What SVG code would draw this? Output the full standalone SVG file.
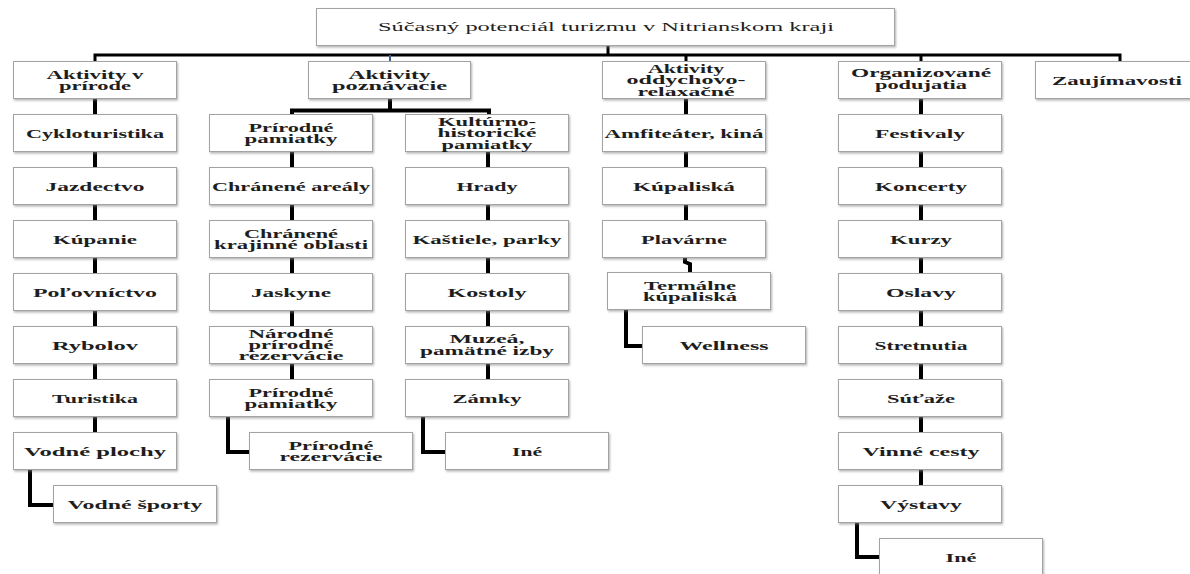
<svg xmlns="http://www.w3.org/2000/svg" width="1190" height="574" viewBox="0 0 1190 574">
<style>
.b{fill:#fff;stroke:#a3a3a3;stroke-width:1;filter:url(#sh)}
.t{font-family:"Liberation Serif","Times New Roman",serif;font-weight:bold;font-size:12px;fill:#1e1e1e;text-anchor:middle}
.r{font-family:"Liberation Serif","Times New Roman",serif;font-size:13px;fill:#1e1e1e;text-anchor:middle}
.c{fill:none;stroke:#000;stroke-width:4;stroke-linejoin:miter}
.bus{fill:none;stroke:#000;stroke-width:3}
</style>
<defs>
<filter id="sh" x="-5%" y="-10%" width="115%" height="130%">
<feDropShadow dx="1" dy="1.5" stdDeviation="0.8" flood-color="#808080" flood-opacity="0.6"/>
</filter>
</defs>
<rect width="1190" height="574" fill="#fff"/>

<g id="connectors">
<path class="bus" d="M95,62 V55 H1120 V62"/>
<path class="bus" d="M608,45.5 V55"/>
<path d="M390,55 V62" stroke="#3d5f8f" stroke-width="2" fill="none"/>
<path class="bus" d="M686,55 V62"/>
<path class="bus" d="M921,55 V62"/>
<path class="c" d="M95,98.5 V114.5 M95,151.5 V167.5 M95,204.5 V220.5 M95,257.5 V273.5 M95,310.5 V326.5 M95,363.5 V379.5 M95,416.5 V432.5"/>
<path class="c" d="M30,469.5 V505 H53.5"/>
<path class="c" d="M390,98.5 V110.5 M292,114.5 V110.5 H489 V114.5"/>
<path class="c" d="M292,151.5 V167.5 M292,204.5 V220.5 M292,257.5 V273.5 M292,310.5 V326.5 M292,363.5 V379.5"/>
<path class="c" d="M228,416.5 V452 H249.5"/>
<path class="c" d="M488,151.5 V167.5 M488,204.5 V220.5 M488,257.5 V273.5 M488,310.5 V326.5 M488,363.5 V379.5"/>
<path class="c" d="M423,416.5 V452 H445.5"/>
<path class="c" d="M686,98.5 V114.5 M686,151.5 V167.5 M686,204.5 V220.5"/>
<path class="c" d="M685,257.5 V262 L690,264 V272.5"/>
<path class="c" d="M626,309.5 V346 H642.5"/>
<path class="c" d="M921,98.5 V114.5 M921,151.5 V167.5 M921,204.5 V220.5 M921,257.5 V273.5 M921,310.5 V326.5 M921,363.5 V379.5 M921,416.5 V432.5 M921,469.5 V485.5"/>
<path class="c" d="M857,522.5 V557 H879.5"/>
</g>

<g id="root">
<rect class="b" x="316.5" y="8.5" width="578" height="37"/>
<text class="r" x="606" y="31" textLength="456" lengthAdjust="spacingAndGlyphs">Súčasný potenciál turizmu v Nitrianskom kraji</text>
</g>

<g id="n-aktivity-prirode">
<rect class="b" x="13.5" y="61.5" width="163" height="37"/>
<text class="t" x="95" y="78.5" textLength="97" lengthAdjust="spacingAndGlyphs">Aktivity v</text>
<text class="t" x="95" y="90" textLength="72" lengthAdjust="spacingAndGlyphs">prírode</text>
</g>
<g id="n-cykloturistika">
<rect class="b" x="13.5" y="114.5" width="163" height="37"/>
<text class="t" x="95" y="137.5" textLength="138" lengthAdjust="spacingAndGlyphs">Cykloturistika</text>
</g>
<g id="n-jazdectvo">
<rect class="b" x="13.5" y="167.5" width="163" height="37"/>
<text class="t" x="95" y="190.5" textLength="99" lengthAdjust="spacingAndGlyphs">Jazdectvo</text>
</g>
<g id="n-kupanie">
<rect class="b" x="13.5" y="220.5" width="163" height="37"/>
<text class="t" x="95" y="243.5" textLength="84" lengthAdjust="spacingAndGlyphs">Kúpanie</text>
</g>
<g id="n-polovnictvo">
<rect class="b" x="13.5" y="273.5" width="163" height="37"/>
<text class="t" x="95" y="296.5" textLength="124" lengthAdjust="spacingAndGlyphs">Poľovníctvo</text>
</g>
<g id="n-rybolov">
<rect class="b" x="13.5" y="326.5" width="163" height="37"/>
<text class="t" x="95" y="349.5" textLength="86" lengthAdjust="spacingAndGlyphs">Rybolov</text>
</g>
<g id="n-turistika">
<rect class="b" x="13.5" y="379.5" width="163" height="37"/>
<text class="t" x="95" y="402.5" textLength="86" lengthAdjust="spacingAndGlyphs">Turistika</text>
</g>
<g id="n-vodne-plochy">
<rect class="b" x="13.5" y="432.5" width="163" height="37"/>
<text class="t" x="95" y="455.5" textLength="142" lengthAdjust="spacingAndGlyphs">Vodné plochy</text>
</g>
<g id="n-vodne-sporty">
<rect class="b" x="53.5" y="485.5" width="163" height="37"/>
<text class="t" x="135" y="508.5" textLength="135" lengthAdjust="spacingAndGlyphs">Vodné športy</text>
</g>

<g id="n-aktivity-poznavacie">
<rect class="b" x="308.5" y="61.5" width="162" height="37"/>
<text class="t" x="389.5" y="78.5" textLength="82" lengthAdjust="spacingAndGlyphs">Aktivity</text>
<text class="t" x="389.5" y="90" textLength="115" lengthAdjust="spacingAndGlyphs">poznávacie</text>
</g>
<g id="n-prirodne-pamiatky">
<rect class="b" x="209.5" y="114.5" width="163" height="37"/>
<text class="t" x="291" y="131.5" textLength="85" lengthAdjust="spacingAndGlyphs">Prírodné</text>
<text class="t" x="291" y="143" textLength="93" lengthAdjust="spacingAndGlyphs">pamiatky</text>
</g>
<g id="n-chranene-arealy">
<rect class="b" x="209.5" y="167.5" width="163" height="37"/>
<text class="t" x="291" y="190.5" textLength="158" lengthAdjust="spacingAndGlyphs">Chránené areály</text>
</g>
<g id="n-chranene-krajinne">
<rect class="b" x="209.5" y="220.5" width="163" height="37"/>
<text class="t" x="291" y="237.5" textLength="94" lengthAdjust="spacingAndGlyphs">Chránené</text>
<text class="t" x="291" y="249" textLength="154" lengthAdjust="spacingAndGlyphs">krajinné oblasti</text>
</g>
<g id="n-jaskyne">
<rect class="b" x="209.5" y="273.5" width="163" height="37"/>
<text class="t" x="291" y="296.5" textLength="80" lengthAdjust="spacingAndGlyphs">Jaskyne</text>
</g>
<g id="n-narodne-rezervacie">
<rect class="b" x="209.5" y="326.5" width="163" height="37"/>
<text class="t" x="291" y="337.5" textLength="85" lengthAdjust="spacingAndGlyphs">Národné</text>
<text class="t" x="291" y="348.8" textLength="85" lengthAdjust="spacingAndGlyphs">prírodné</text>
<text class="t" x="291" y="360.1" textLength="105" lengthAdjust="spacingAndGlyphs">rezervácie</text>
</g>
<g id="n-prirodne-pamiatky-2">
<rect class="b" x="209.5" y="379.5" width="163" height="37"/>
<text class="t" x="291" y="396.5" textLength="85" lengthAdjust="spacingAndGlyphs">Prírodné</text>
<text class="t" x="291" y="408" textLength="93" lengthAdjust="spacingAndGlyphs">pamiatky</text>
</g>
<g id="n-prirodne-rezervacie">
<rect class="b" x="249.5" y="432.5" width="163" height="37"/>
<text class="t" x="331" y="449.5" textLength="85" lengthAdjust="spacingAndGlyphs">Prírodné</text>
<text class="t" x="331" y="461" textLength="103" lengthAdjust="spacingAndGlyphs">rezervácie</text>
</g>
<g id="n-kulturno-historicke">
<rect class="b" x="405.5" y="114.5" width="163" height="37"/>
<text class="t" x="487" y="126" textLength="98" lengthAdjust="spacingAndGlyphs">Kultúrno-</text>
<text class="t" x="487" y="137.3" textLength="99" lengthAdjust="spacingAndGlyphs">historické</text>
<text class="t" x="487" y="148.6" textLength="91" lengthAdjust="spacingAndGlyphs">pamiatky</text>
</g>
<g id="n-hrady">
<rect class="b" x="405.5" y="167.5" width="163" height="37"/>
<text class="t" x="487" y="190.5" textLength="61" lengthAdjust="spacingAndGlyphs">Hrady</text>
</g>
<g id="n-kastiele">
<rect class="b" x="405.5" y="220.5" width="163" height="37"/>
<text class="t" x="487" y="243.5" textLength="149" lengthAdjust="spacingAndGlyphs">Kaštiele, parky</text>
</g>
<g id="n-kostoly">
<rect class="b" x="405.5" y="273.5" width="163" height="37"/>
<text class="t" x="487" y="296.5" textLength="79" lengthAdjust="spacingAndGlyphs">Kostoly</text>
</g>
<g id="n-muzea">
<rect class="b" x="405.5" y="326.5" width="163" height="37"/>
<text class="t" x="487" y="343" textLength="75" lengthAdjust="spacingAndGlyphs">Muzeá,</text>
<text class="t" x="487" y="354.5" textLength="134" lengthAdjust="spacingAndGlyphs">pamätné izby</text>
</g>
<g id="n-zamky">
<rect class="b" x="405.5" y="379.5" width="163" height="37"/>
<text class="t" x="487" y="402.5" textLength="69" lengthAdjust="spacingAndGlyphs">Zámky</text>
</g>
<g id="n-ine-1">
<rect class="b" x="445.5" y="432.5" width="163" height="37"/>
<text class="t" x="527" y="455.5" textLength="30" lengthAdjust="spacingAndGlyphs">Iné</text>
</g>

<g id="n-aktivity-oddychovo">
<rect class="b" x="602.5" y="61.5" width="163" height="37"/>
<text class="t" x="686" y="73" textLength="76" lengthAdjust="spacingAndGlyphs">Aktivity</text>
<text class="t" x="686" y="84.3" textLength="119" lengthAdjust="spacingAndGlyphs">oddychovo-</text>
<text class="t" x="686" y="95.6" textLength="97" lengthAdjust="spacingAndGlyphs">relaxačné</text>
</g>
<g id="n-amfiteater">
<rect class="b" x="602.5" y="114.5" width="163" height="37"/>
<text class="t" x="684" y="137.5" textLength="159" lengthAdjust="spacingAndGlyphs">Amfiteáter, kiná</text>
</g>
<g id="n-kupaliska">
<rect class="b" x="602.5" y="167.5" width="163" height="37"/>
<text class="t" x="684" y="190.5" textLength="102" lengthAdjust="spacingAndGlyphs">Kúpaliská</text>
</g>
<g id="n-plavarne">
<rect class="b" x="602.5" y="220.5" width="163" height="37"/>
<text class="t" x="684" y="243.5" textLength="86" lengthAdjust="spacingAndGlyphs">Plavárne</text>
</g>
<g id="n-termalne">
<rect class="b" x="607.5" y="272.5" width="163" height="37"/>
<text class="t" x="690" y="289.5" textLength="92" lengthAdjust="spacingAndGlyphs">Termálne</text>
<text class="t" x="690" y="301" textLength="94" lengthAdjust="spacingAndGlyphs">kúpaliská</text>
</g>
<g id="n-wellness">
<rect class="b" x="642.5" y="326.5" width="163" height="37"/>
<text class="t" x="724" y="349.5" textLength="89" lengthAdjust="spacingAndGlyphs">Wellness</text>
</g>

<g id="n-organizovane">
<rect class="b" x="838.5" y="61.5" width="163" height="37"/>
<text class="t" x="921" y="77" textLength="140" lengthAdjust="spacingAndGlyphs">Organizované</text>
<text class="t" x="921" y="88.5" textLength="92" lengthAdjust="spacingAndGlyphs">podujatia</text>
</g>
<g id="n-festivaly">
<rect class="b" x="838.5" y="114.5" width="163" height="37"/>
<text class="t" x="920" y="137.5" textLength="90" lengthAdjust="spacingAndGlyphs">Festivaly</text>
</g>
<g id="n-koncerty">
<rect class="b" x="838.5" y="167.5" width="163" height="37"/>
<text class="t" x="921" y="190.5" textLength="92" lengthAdjust="spacingAndGlyphs">Koncerty</text>
</g>
<g id="n-kurzy">
<rect class="b" x="838.5" y="220.5" width="163" height="37"/>
<text class="t" x="921" y="243.5" textLength="62" lengthAdjust="spacingAndGlyphs">Kurzy</text>
</g>
<g id="n-oslavy">
<rect class="b" x="838.5" y="273.5" width="163" height="37"/>
<text class="t" x="921" y="296.5" textLength="70" lengthAdjust="spacingAndGlyphs">Oslavy</text>
</g>
<g id="n-stretnutia">
<rect class="b" x="838.5" y="326.5" width="163" height="37"/>
<text class="t" x="921" y="349.5" textLength="93" lengthAdjust="spacingAndGlyphs">Stretnutia</text>
</g>
<g id="n-sutaze">
<rect class="b" x="838.5" y="379.5" width="163" height="37"/>
<text class="t" x="921" y="402.5" textLength="68" lengthAdjust="spacingAndGlyphs">Súťaže</text>
</g>
<g id="n-vinne-cesty">
<rect class="b" x="838.5" y="432.5" width="163" height="37"/>
<text class="t" x="921" y="455.5" textLength="117" lengthAdjust="spacingAndGlyphs">Vinné cesty</text>
</g>
<g id="n-vystavy">
<rect class="b" x="838.5" y="485.5" width="163" height="37"/>
<text class="t" x="921" y="508.5" textLength="82" lengthAdjust="spacingAndGlyphs">Výstavy</text>
</g>
<g id="n-ine-2">
<rect class="b" x="879.5" y="538.5" width="163" height="37"/>
<text class="t" x="961" y="561.5" textLength="31" lengthAdjust="spacingAndGlyphs">Iné</text>
</g>

<g id="n-zaujimavosti">
<rect class="b" x="1035.5" y="61.5" width="163" height="37"/>
<text class="t" x="1117" y="84.5" textLength="130" lengthAdjust="spacingAndGlyphs">Zaujímavosti</text>
</g>
</svg>
